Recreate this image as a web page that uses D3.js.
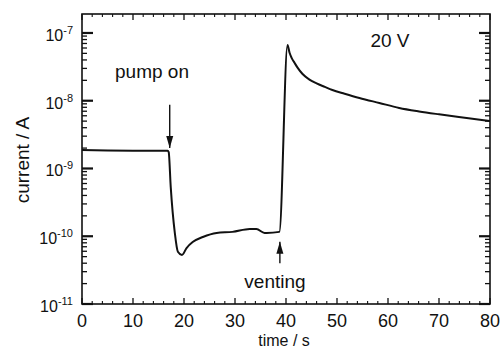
<!DOCTYPE html>
<html>
<head>
<meta charset="utf-8">
<script src="https://cdn.jsdelivr.net/npm/d3@7"></script>
<style>
  html, body { margin: 0; padding: 0; background: #fff; }
  svg { display: block; }
  text { font-family: "Liberation Sans", Arial, Helvetica, sans-serif; fill: #111; }
</style>
</head>
<body>
<svg id="chart" width="503" height="349"></svg>
<script>
// ---- data ----
const time = [0, 5, 10, 16.8, 17.0, 17.4, 18.2, 18.8, 19.6, 20.5, 21.7, 23.7, 26.4, 29.5, 32.9, 34.2, 35.8, 36.2, 38.7,
              40.3, 40.7, 41.1, 41.7, 42.3, 43.2, 44.6, 46.0, 47.6, 49.1, 51.5, 54.4, 58.3, 62.2, 66.1, 70.0, 73.9, 78.4, 80];
const current = [1.87e-9, 1.84e-9, 1.83e-9, 1.83e-9, 1.75e-9, 5.3e-10, 1.12e-10, 5.9e-11, 5.3e-11, 6.7e-11, 8.2e-11, 9.75e-11, 1.12e-10, 1.16e-10, 1.28e-10, 1.28e-10, 1.12e-10, 1.12e-10, 1.16e-10,
                 6.65e-8, 5.1e-8, 4.3e-8, 3.6e-8, 3.05e-8, 2.5e-8, 2.05e-8, 1.8e-8, 1.6e-8, 1.44e-8, 1.27e-8, 1.10e-8, 9.27e-9, 7.82e-9, 6.95e-9, 6.3e-9, 5.75e-9, 5.2e-9, 5.0e-9];
const xTicks = [0, 10, 20, 30, 40, 50, 60, 70, 80];
const yExponents = [-11, -10, -9, -8, -7];
const annotations = [
  { t: 17.2, from: 8.7e-9, to: 2.0e-9, label: "pump on" },
  { t: 38.8, from: 4.0e-11, to: 8.3e-11, label: "venting" }
];
const voltageLabel = "20 V";
const xTitle = "time / s";
const yTitle = "current / A";

// ---- layout ----
const L = 82, R = 490, T = 14, B = 304;
const svg = d3.select("#chart");
const x = d3.scaleLinear().domain([0, 80]).range([L, R]);
const y = d3.scaleLog().domain([1e-11, Math.pow(10, -6.72)]).range([B, T]);

// arrowhead
svg.append("defs").append("marker")
  .attr("id", "ah").attr("viewBox", "0 0 12 8").attr("refX", 12).attr("refY", 4)
  .attr("markerWidth", 12).attr("markerHeight", 8).attr("markerUnits", "userSpaceOnUse")
  .attr("orient", "auto")
  .append("path").attr("d", "M0,0.5 L12,4 L0,7.5 Z").attr("fill", "#111");

// ---- ticks ----
const minorX = d3.range(0, 81, 2).filter(v => v % 10 !== 0);
const g = svg.append("g").attr("stroke", "#111");
xTicks.forEach(v => {
  g.append("line").attr("x1", x(v)).attr("x2", x(v)).attr("y1", B).attr("y2", B - 6).attr("stroke-width", 1.3);
  g.append("line").attr("x1", x(v)).attr("x2", x(v)).attr("y1", T).attr("y2", T + 6).attr("stroke-width", 1.3);
});
minorX.forEach(v => {
  g.append("line").attr("x1", x(v)).attr("x2", x(v)).attr("y1", B).attr("y2", B - 3).attr("stroke-width", 1.1);
  g.append("line").attr("x1", x(v)).attr("x2", x(v)).attr("y1", T).attr("y2", T + 3).attr("stroke-width", 1.1);
});
const minorY = [];
yExponents.forEach(e => { for (let k = 2; k <= 9; k++) { const v = k * Math.pow(10, e); if (v < y.domain()[1]) minorY.push(v); } });
yExponents.forEach(e => {
  const v = Math.pow(10, e);
  g.append("line").attr("x1", L).attr("x2", L + 11).attr("y1", y(v)).attr("y2", y(v)).attr("stroke-width", 2.2);
  g.append("line").attr("x1", R).attr("x2", R - 11).attr("y1", y(v)).attr("y2", y(v)).attr("stroke-width", 2.2);
});
minorY.forEach(v => {
  g.append("line").attr("x1", L).attr("x2", L + 5).attr("y1", y(v)).attr("y2", y(v)).attr("stroke-width", 1.3);
  g.append("line").attr("x1", R).attr("x2", R - 5).attr("y1", y(v)).attr("y2", y(v)).attr("stroke-width", 1.3);
});

// frame
svg.append("rect").attr("x", L).attr("y", T).attr("width", R - L).attr("height", B - T)
  .attr("fill", "none").attr("stroke", "#111").attr("stroke-width", 1.6);

// ---- tick labels ----
xTicks.forEach(v => {
  svg.append("text").attr("x", x(v)).attr("y", 327).attr("text-anchor", "middle")
    .attr("font-size", 18).text(v);
});
yExponents.forEach(e => {
  const t = svg.append("text").attr("x", 73).attr("y", y(Math.pow(10, e)) + 8)
    .attr("text-anchor", "end").attr("font-size", 16);
  t.append("tspan").text("10");
  t.append("tspan").attr("dy", -7).attr("font-size", 11).text("-" + (-e));
});

// axis titles
svg.append("text").attr("x", 284).attr("y", 345.8).attr("text-anchor", "middle").attr("font-size", 16).text(xTitle);
svg.append("text").attr("transform", "translate(29,160) rotate(-90)").attr("text-anchor", "middle")
  .attr("font-size", 19).text(yTitle);

// ---- data line ----
const line = d3.line().x((d, i) => x(time[i])).y(d => y(d)).curve(d3.curveMonotoneX);
svg.append("path").datum(current).attr("d", line).attr("fill", "none")
  .attr("stroke", "#111").attr("stroke-width", 2).attr("stroke-linejoin", "round");

// ---- annotations ----
annotations.forEach(a => {
  svg.append("line").attr("x1", x(a.t)).attr("x2", x(a.t)).attr("y1", y(a.from)).attr("y2", y(a.to))
    .attr("stroke", "#111").attr("stroke-width", 1.4).attr("marker-end", "url(#ah)");
});
svg.append("text").attr("x", 189).attr("y", 78).attr("text-anchor", "end").attr("font-size", 19).text(annotations[0].label);
svg.append("text").attr("x", 275).attr("y", 288).attr("text-anchor", "middle").attr("font-size", 19).text(annotations[1].label);
svg.append("text").attr("x", 390).attr("y", 47).attr("text-anchor", "middle").attr("font-size", 19).text(voltageLabel);
</script>
</body>
</html>
